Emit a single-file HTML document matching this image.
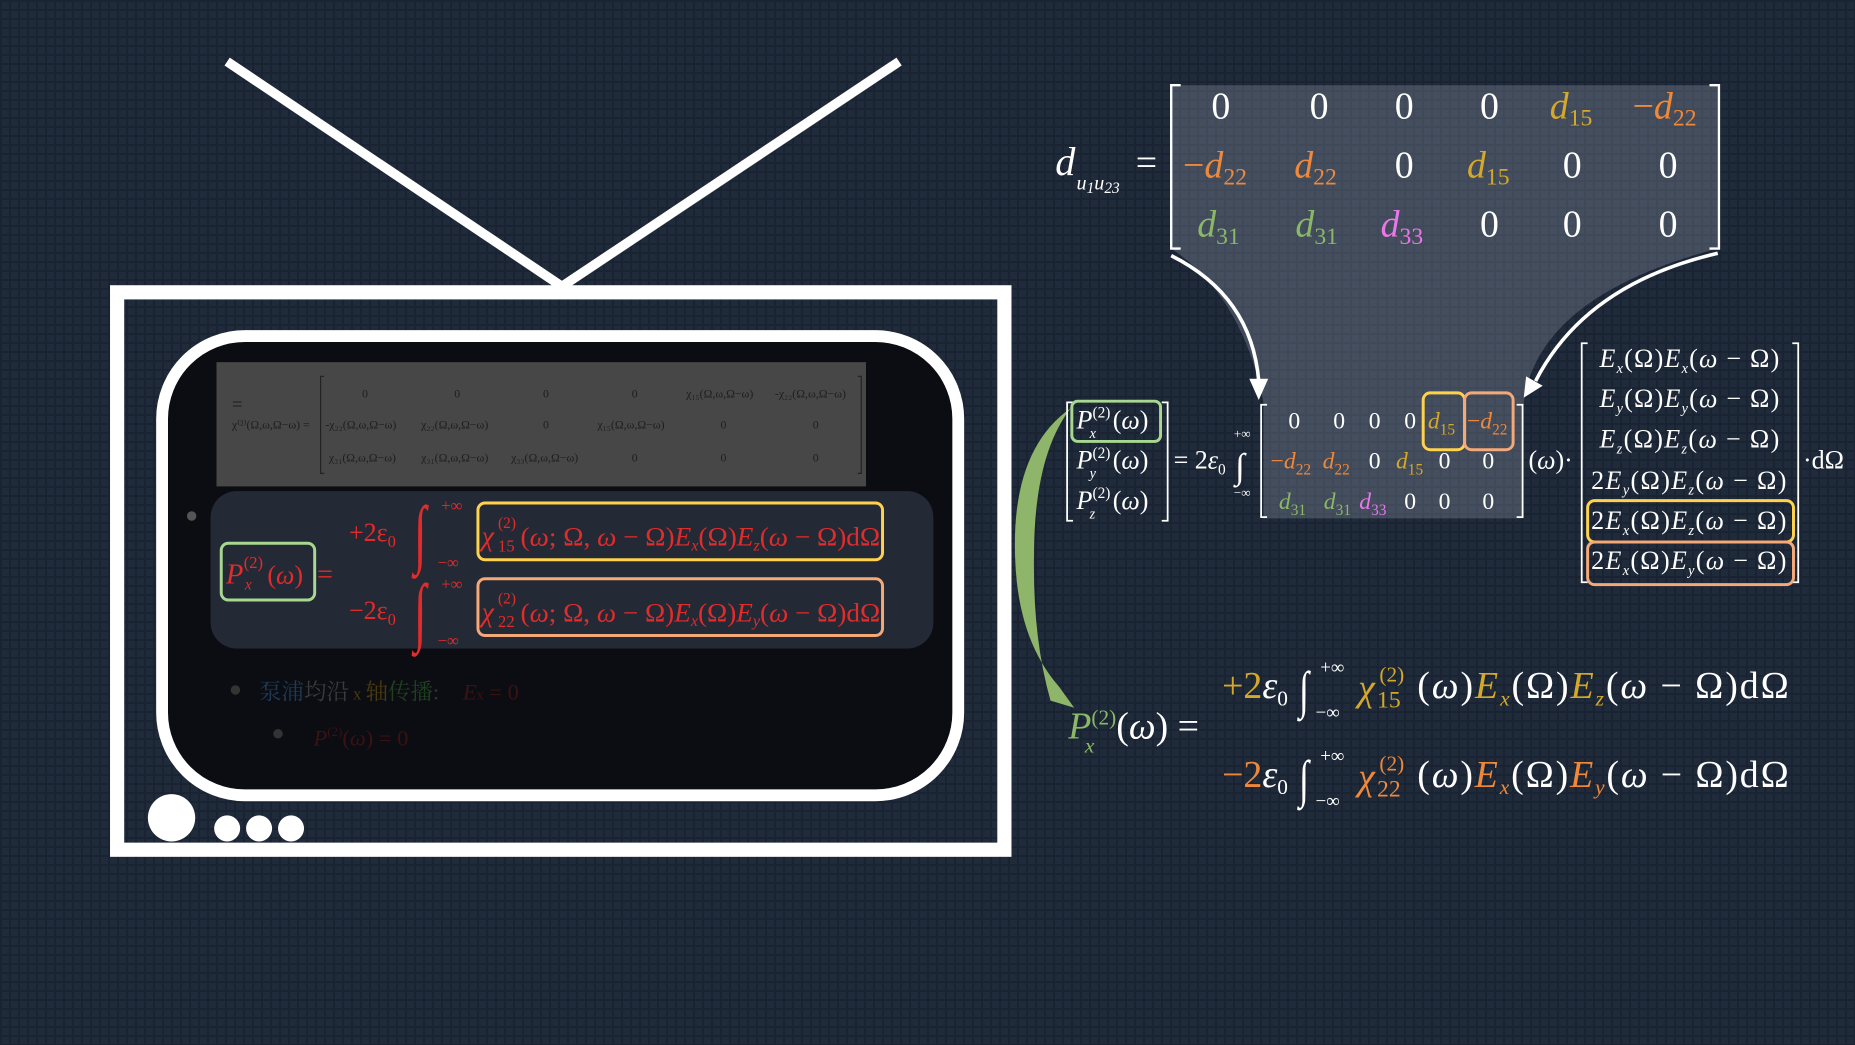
<!DOCTYPE html>
<html><head><meta charset="utf-8"><style>
html,body{margin:0;padding:0;}
body{width:1855px;height:1045px;overflow:hidden;background-color:#1f2a3b;
background-image:linear-gradient(#1a2331 2px,transparent 2px),linear-gradient(90deg,#1a2331 2px,transparent 2px);background-size:9px 9px;}
svg{position:absolute;left:0;top:0;}
text{font-family:"Liberation Serif","Noto Serif CJK SC",serif;}
.i{font-style:italic;}
</style></head><body>
<svg width="1855" height="1045" viewBox="0 0 1568 883" preserveAspectRatio="none">
<g stroke="#fff" stroke-width="8">
<line x1="192" y1="52" x2="475" y2="242"/><line x1="760" y1="52" x2="475" y2="242"/></g>
<rect x="99" y="247" width="750" height="471" fill="none" stroke="#fff" stroke-width="12"/>
<rect x="137" y="284" width="673" height="388" rx="70" fill="#0b0d12" stroke="#fff" stroke-width="10"/>
<rect x="183" y="306" width="549" height="105" fill="#474747"/>
<g fill="#1e1e1e" font-size="10">
<text x="196" y="347" font-size="16">=</text>
<text x="196" y="362">χ⁽²⁾(Ω,ω,Ω−ω) =</text>
<path d="M274 318 H271 V400 H274 M725 318 H728 V400 H725" fill="none" stroke="#222" stroke-width="1"/>
<text x="306" y="336">0</text><text x="384" y="336">0</text><text x="459" y="336">0</text><text x="534" y="336">0</text>
<text x="580" y="336">χ₁₅(Ω,ω,Ω−ω)</text><text x="655" y="336">-χ₂₂(Ω,ω,Ω−ω)</text>
<text x="275" y="362">-χ₂₂(Ω,ω,Ω−ω)</text><text x="356" y="362">χ₂₂(Ω,ω,Ω−ω)</text><text x="459" y="362">0</text><text x="505" y="362">χ₁₅(Ω,ω,Ω−ω)</text><text x="609" y="362">0</text><text x="687" y="362">0</text>
<text x="278" y="390">χ₃₁(Ω,ω,Ω−ω)</text><text x="356" y="390">χ₃₁(Ω,ω,Ω−ω)</text><text x="432" y="390">χ₃₃(Ω,ω,Ω−ω)</text><text x="534" y="390">0</text><text x="609" y="390">0</text><text x="687" y="390">0</text>
</g>
<rect x="178" y="415" width="611" height="133" rx="22" fill="#242a35"/>
<circle cx="162" cy="436" r="4" fill="#555"/>
<g fill="#e22b2b">
<rect x="187" y="459" width="79" height="48" rx="6" fill="none" stroke="#a8d890" stroke-width="2.5"/>
<text x="191" y="493" font-size="24" class="i">P</text><text x="206" y="480" font-size="14">(2)</text><text x="207" y="498" font-size="13" class="i">x</text><text x="226" y="493" font-size="22">(<tspan class="i">ω</tspan>)</text>
<text x="268" y="493" font-size="24">=</text>
<text x="295" y="457" font-size="22">+2ε<tspan font-size="14" dy="5">0</tspan></text>
<text x="350" y="472" font-size="64" transform="translate(350 0) scale(0.6 1) translate(-350 0)">∫</text><text x="373" y="432" font-size="14">+∞</text><text x="370" y="480" font-size="14">−∞</text>
<rect x="404" y="425" width="342" height="48" rx="6" fill="none" stroke="#ffd24d" stroke-width="2.5"/>
<text x="407" y="461" font-size="24" class="i">χ</text><text x="421" y="466" font-size="14">15</text><text x="421" y="446" font-size="13">(2)</text>
<text x="440" y="461" font-size="22" textLength="304" lengthAdjust="spacingAndGlyphs">(<tspan class="i">ω</tspan>; Ω, <tspan class="i">ω</tspan> − Ω)<tspan class="i">E</tspan><tspan font-size="13" class="i" dy="4">x</tspan><tspan dy="-4">(Ω)</tspan><tspan class="i">E</tspan><tspan font-size="13" class="i" dy="4">z</tspan><tspan dy="-4">(<tspan class="i">ω</tspan> − Ω)dΩ</tspan></text>
<text x="295" y="523" font-size="22">−2ε<tspan font-size="14" dy="5">0</tspan></text>
<text x="350" y="538" font-size="64" transform="translate(350 0) scale(0.6 1) translate(-350 0)">∫</text><text x="373" y="498" font-size="14">+∞</text><text x="370" y="546" font-size="14">−∞</text>
<rect x="404" y="489" width="342" height="48" rx="6" fill="none" stroke="#f5a878" stroke-width="2.5"/>
<text x="407" y="525" font-size="24" class="i">χ</text><text x="421" y="530" font-size="14">22</text><text x="421" y="510" font-size="13">(2)</text>
<text x="440" y="525" font-size="22" textLength="304" lengthAdjust="spacingAndGlyphs">(<tspan class="i">ω</tspan>; Ω, <tspan class="i">ω</tspan> − Ω)<tspan class="i">E</tspan><tspan font-size="13" class="i" dy="4">x</tspan><tspan dy="-4">(Ω)</tspan><tspan class="i">E</tspan><tspan font-size="13" class="i" dy="4">y</tspan><tspan dy="-4">(<tspan class="i">ω</tspan> − Ω)dΩ</tspan></text>
</g>
<g font-size="19">
<circle cx="199" cy="583" r="4" fill="#333"/>
<text x="219" y="591" fill="#1f3a55">泵浦<tspan fill="#3a3a3a">均沿</tspan><tspan fill="#4a3a10" font-size="14"> x </tspan><tspan fill="#4a3a10">轴</tspan><tspan fill="#1f4020">传播</tspan><tspan fill="#333">:</tspan><tspan fill="#3a1212" class="i" dx="20">E</tspan><tspan fill="#3a1212" font-size="12">x</tspan><tspan fill="#3a1212"> = 0</tspan></text>
<circle cx="235" cy="620" r="4" fill="#333"/>
<text x="265" y="630" fill="#3a1212"><tspan class="i">P</tspan><tspan font-size="11" dy="-8">(2)</tspan><tspan dy="8">(<tspan class="i">ω</tspan>) = 0</tspan></text>
</g>
<g fill="#fff">
<circle cx="145" cy="691" r="20"/><circle cx="192" cy="700" r="11"/><circle cx="219" cy="700" r="11"/><circle cx="246" cy="700" r="11"/></g>

<path d="M990 72 L1452 72 L1452 210 Q1300 250 1288 340 L1288 438 L1068 438 L1068 340 Q1050 250 990 210 Z" fill="rgba(200,210,225,0.22)"/>
<g font-size="32" fill="#fff">
<text x="892" y="148" class="i" font-size="34">d</text><text x="910" y="160" class="i" font-size="17">u<tspan font-size="13" dy="3">1</tspan><tspan dy="-3">u</tspan><tspan font-size="13" dy="3">23</tspan></text>
<text x="960" y="148">=</text>
<path d="M998 72 H990 V210 H998 M1445 72 H1453 V210 H1445" fill="none" stroke="#fff" stroke-width="2"/>
<text x="1024" y="100">0</text><text x="1107" y="100">0</text><text x="1179" y="100">0</text><text x="1251" y="100">0</text>
<text x="1310" y="100" fill="#d4a82a"><tspan class="i">d</tspan><tspan font-size="20" dy="6">15</tspan></text>
<text x="1380" y="100" fill="#f0883a">−<tspan class="i">d</tspan><tspan font-size="20" dy="6">22</tspan></text>
<text x="1000" y="150" fill="#f0883a">−<tspan class="i">d</tspan><tspan font-size="20" dy="6">22</tspan></text>
<text x="1094" y="150" fill="#f0883a"><tspan class="i">d</tspan><tspan font-size="20" dy="6">22</tspan></text>
<text x="1179" y="150">0</text>
<text x="1240" y="150" fill="#d4a82a"><tspan class="i">d</tspan><tspan font-size="20" dy="6">15</tspan></text>
<text x="1321" y="150">0</text><text x="1402" y="150">0</text>
<text x="1012" y="200" fill="#8ab866"><tspan class="i">d</tspan><tspan font-size="20" dy="6">31</tspan></text>
<text x="1095" y="200" fill="#8ab866"><tspan class="i">d</tspan><tspan font-size="20" dy="6">31</tspan></text>
<text x="1167" y="200" fill="#e878e8"><tspan class="i">d</tspan><tspan font-size="20" dy="6">33</tspan></text>
<text x="1251" y="200">0</text><text x="1321" y="200">0</text><text x="1402" y="200">0</text>
</g>
<g fill="none" stroke="#fff" stroke-width="3">
<path d="M990 216 Q1058 250 1064 322"/><path d="M1452 214 Q1340 240 1298 322"/></g>
<polygon points="1056,320 1072,320 1064,338" fill="#fff"/><polygon points="1290,318 1304,326 1288,336" fill="#fff"/>
<path d="M905 345 Q855 380 858 470 Q860 540 895 580 L908 598 L888 592 Q873 540 874 470 Q874 385 905 345 Z" fill="#8fb56a"/>

<g font-size="22" fill="#fff">
<path d="M907 340 H902 V440 H907 M982 340 H987 V440 H982" fill="none" stroke="#fff" stroke-width="1.5"/>
<rect x="906" y="339" width="75" height="34" rx="5" fill="none" stroke="#a8d890" stroke-width="2.5"/>
<text x="910" y="362"><tspan class="i">P</tspan><tspan font-size="13" dy="-9">(2)</tspan><tspan dy="9" dx="2">(<tspan class="i">ω</tspan>)</tspan></text><text x="921" y="370" font-size="12" class="i">x</text>
<text x="910" y="396"><tspan class="i">P</tspan><tspan font-size="13" dy="-9">(2)</tspan><tspan dy="9" dx="2">(<tspan class="i">ω</tspan>)</tspan></text><text x="921" y="404" font-size="12" class="i">y</text>
<text x="910" y="430"><tspan class="i">P</tspan><tspan font-size="13" dy="-9">(2)</tspan><tspan dy="9" dx="2">(<tspan class="i">ω</tspan>)</tspan></text><text x="921" y="438" font-size="12" class="i">z</text>
<text x="992" y="396">= 2<tspan class="i">ε</tspan><tspan font-size="13" dy="5">0</tspan></text>
<text x="1044" y="404" font-size="30">∫</text><text x="1043" y="370" font-size="11">+∞</text><text x="1043" y="420" font-size="11">−∞</text>
<path d="M1071 342 H1066 V437 H1071 M1282 342 H1287 V437 H1282" fill="none" stroke="#fff" stroke-width="1.5"/>
<rect x="1203" y="332" width="35" height="48" rx="6" fill="none" stroke="#ffd24d" stroke-width="2.5"/>
<rect x="1238" y="332" width="41" height="48" rx="6" fill="none" stroke="#f5a878" stroke-width="2.5"/>
<g font-size="20">
<text x="1089" y="362">0</text><text x="1127" y="362">0</text><text x="1157" y="362">0</text><text x="1187" y="362">0</text>
<text x="1207" y="362" fill="#d4a82a"><tspan class="i">d</tspan><tspan font-size="13" dy="5">15</tspan></text>
<text x="1240" y="362" fill="#f0883a">−<tspan class="i">d</tspan><tspan font-size="13" dy="5">22</tspan></text>
<text x="1074" y="396" fill="#f0883a">−<tspan class="i">d</tspan><tspan font-size="13" dy="5">22</tspan></text>
<text x="1118" y="396" fill="#f0883a"><tspan class="i">d</tspan><tspan font-size="13" dy="5">22</tspan></text>
<text x="1157" y="396">0</text>
<text x="1180" y="396" fill="#d4a82a"><tspan class="i">d</tspan><tspan font-size="13" dy="5">15</tspan></text>
<text x="1216" y="396">0</text><text x="1253" y="396">0</text>
<text x="1081" y="430" fill="#8ab866"><tspan class="i">d</tspan><tspan font-size="13" dy="5">31</tspan></text>
<text x="1119" y="430" fill="#8ab866"><tspan class="i">d</tspan><tspan font-size="13" dy="5">31</tspan></text>
<text x="1149" y="430" fill="#e878e8"><tspan class="i">d</tspan><tspan font-size="13" dy="5">33</tspan></text>
<text x="1187" y="430">0</text><text x="1216" y="430">0</text><text x="1253" y="430">0</text>
</g>
<text x="1292" y="396">(<tspan class="i">ω</tspan>)·</text>
<path d="M1342 290 H1337 V492 H1342 M1515 290 H1520 V492 H1515" fill="none" stroke="#fff" stroke-width="1.5"/>
<rect x="1342" y="423" width="174" height="35" rx="6" fill="none" stroke="#ffd24d" stroke-width="2.5"/>
<rect x="1342" y="458" width="174" height="36" rx="6" fill="none" stroke="#f5a878" stroke-width="2.5"/>
<g textLength="150">
<text x="1352" y="310" textLength="152" lengthAdjust="spacing"><tspan class="i">E</tspan><tspan font-size="12" dy="5" class="i">x</tspan><tspan dy="-5">(Ω)</tspan><tspan class="i">E</tspan><tspan font-size="12" dy="5" class="i">x</tspan><tspan dy="-5">(<tspan class="i">ω</tspan> − Ω)</tspan></text>
<text x="1352" y="344" textLength="152" lengthAdjust="spacing"><tspan class="i">E</tspan><tspan font-size="12" dy="5" class="i">y</tspan><tspan dy="-5">(Ω)</tspan><tspan class="i">E</tspan><tspan font-size="12" dy="5" class="i">y</tspan><tspan dy="-5">(<tspan class="i">ω</tspan> − Ω)</tspan></text>
<text x="1352" y="378" textLength="152" lengthAdjust="spacing"><tspan class="i">E</tspan><tspan font-size="12" dy="5" class="i">z</tspan><tspan dy="-5">(Ω)</tspan><tspan class="i">E</tspan><tspan font-size="12" dy="5" class="i">z</tspan><tspan dy="-5">(<tspan class="i">ω</tspan> − Ω)</tspan></text>
<text x="1345" y="413" textLength="165" lengthAdjust="spacing">2<tspan class="i">E</tspan><tspan font-size="12" dy="5" class="i">y</tspan><tspan dy="-5">(Ω)</tspan><tspan class="i">E</tspan><tspan font-size="12" dy="5" class="i">z</tspan><tspan dy="-5">(<tspan class="i">ω</tspan> − Ω)</tspan></text>
<text x="1345" y="447" textLength="165" lengthAdjust="spacing">2<tspan class="i">E</tspan><tspan font-size="12" dy="5" class="i">x</tspan><tspan dy="-5">(Ω)</tspan><tspan class="i">E</tspan><tspan font-size="12" dy="5" class="i">z</tspan><tspan dy="-5">(<tspan class="i">ω</tspan> − Ω)</tspan></text>
<text x="1345" y="481" textLength="165" lengthAdjust="spacing">2<tspan class="i">E</tspan><tspan font-size="12" dy="5" class="i">x</tspan><tspan dy="-5">(Ω)</tspan><tspan class="i">E</tspan><tspan font-size="12" dy="5" class="i">y</tspan><tspan dy="-5">(<tspan class="i">ω</tspan> − Ω)</tspan></text>
</g>
<text x="1524" y="396">·dΩ</text>
</g>

<g font-size="32" fill="#fff">
<text x="903" y="624"><tspan class="i" fill="#8ab866">P</tspan><tspan font-size="18" dy="-12" fill="#8ab866">(2)</tspan><tspan dy="12">(<tspan class="i">ω</tspan>) =</tspan></text>
<text x="917" y="636" font-size="18" class="i" fill="#8ab866">x</text>
<text x="1033" y="590"><tspan fill="#d4a82a">+2</tspan><tspan class="i">ε</tspan><tspan font-size="18" dy="6">0</tspan></text>
<text x="1098" y="598" font-size="44" transform="translate(1098 0) scale(0.7 1) translate(-1098 0)">∫</text>
<text x="1116" y="569" font-size="16">+∞</text><text x="1112" y="607" font-size="16">−∞</text>
<text x="1148" y="592" class="i" fill="#d4a82a">χ</text><text x="1164" y="598" font-size="20" fill="#d4a82a">15</text><text x="1166" y="576" font-size="18" fill="#d4a82a">(2)</text>
<text x="1198" y="590" textLength="314" lengthAdjust="spacing">(<tspan class="i">ω</tspan>)<tspan class="i" fill="#d4a82a">E</tspan><tspan font-size="18" dy="6" class="i" fill="#d4a82a">x</tspan><tspan dy="-6">(Ω)</tspan><tspan class="i" fill="#d4a82a">E</tspan><tspan font-size="18" dy="6" class="i" fill="#d4a82a">z</tspan><tspan dy="-6">(<tspan class="i">ω</tspan> − Ω)dΩ</tspan></text>
<text x="1033" y="665"><tspan fill="#f0883a">−2</tspan><tspan class="i">ε</tspan><tspan font-size="18" dy="6">0</tspan></text>
<text x="1098" y="673" font-size="44" transform="translate(1098 0) scale(0.7 1) translate(-1098 0)">∫</text>
<text x="1116" y="644" font-size="16">+∞</text><text x="1112" y="682" font-size="16">−∞</text>
<text x="1148" y="667" class="i" fill="#f0883a">χ</text><text x="1164" y="673" font-size="20" fill="#f0883a">22</text><text x="1166" y="651" font-size="18" fill="#f0883a">(2)</text>
<text x="1198" y="665" textLength="314" lengthAdjust="spacing">(<tspan class="i">ω</tspan>)<tspan class="i" fill="#f0883a">E</tspan><tspan font-size="18" dy="6" class="i" fill="#f0883a">x</tspan><tspan dy="-6">(Ω)</tspan><tspan class="i" fill="#f0883a">E</tspan><tspan font-size="18" dy="6" class="i" fill="#f0883a">y</tspan><tspan dy="-6">(<tspan class="i">ω</tspan> − Ω)dΩ</tspan></text>
</g>
</svg>
</body></html>
